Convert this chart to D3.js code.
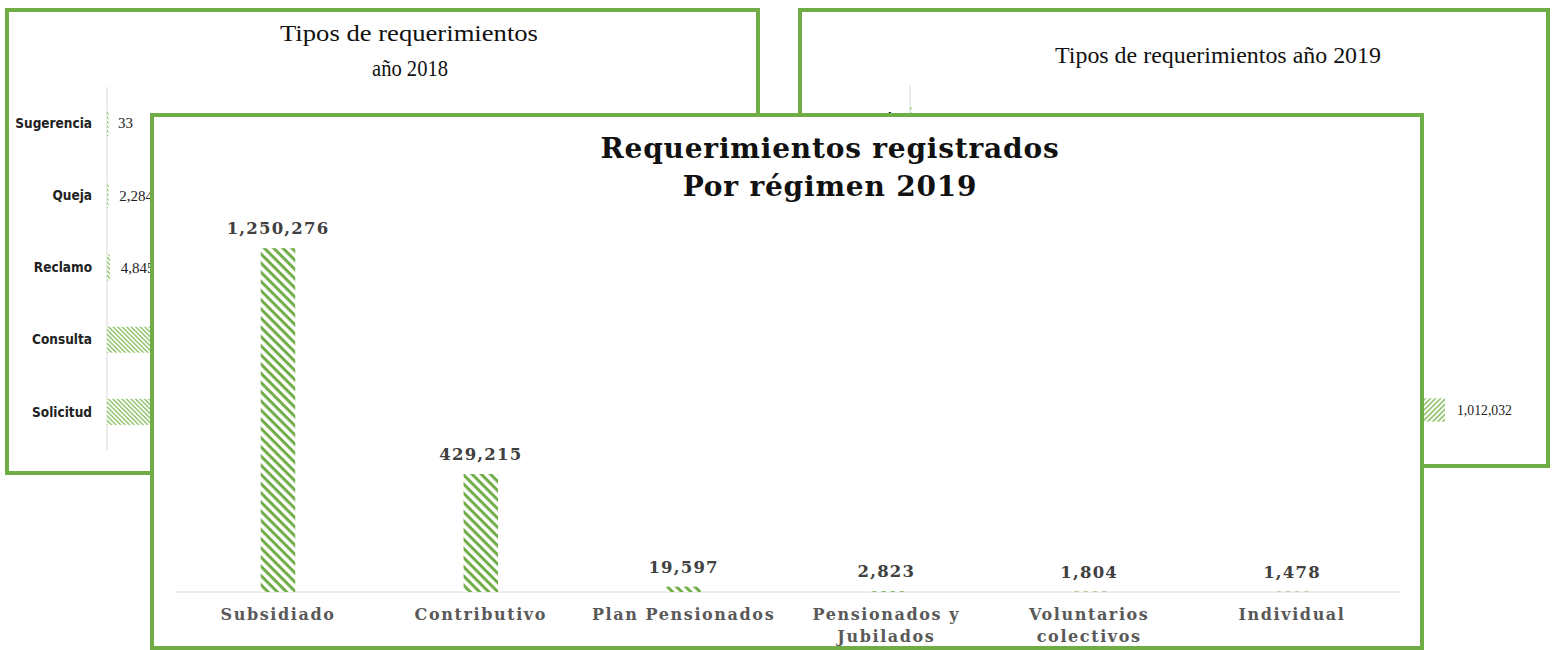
<!DOCTYPE html>
<html>
<head>
<meta charset="utf-8">
<script src="https://cdn.jsdelivr.net/npm/d3@7"></script>
<style>
  body { margin: 0; background: #fff; }
</style>
</head>
<body>
<script>
var W = 1556, H = 650;
var GREEN = "#70ad47";

// front chart: requirements by regime 2019
var regimenes = ["Subsidiado", "Contributivo", "Plan Pensionados", "Pensionados y\nJubilados", "Voluntarios\ncolectivos", "Individual"];
var porRegimen2019 = [1250276, 429215, 19597, 2823, 1804, 1478];

// back charts: requirement types (partly hidden in the picture, hidden values estimated)
var tipos = ["Sugerencia", "Queja", "Reclamo", "Consulta", "Solicitud"];
var tipos2018 = [33, 2284, 4845, 620000, 880000];
var tipos2019 = [45, 2900, 5200, 685016, 1012032];

var fmt = d3.format(",");

// front panel box, the back charts sit under it
var FRONT = {x: 152, y: 115, w: 1270, h: 533};

var svg = d3.select("body").append("svg")
    .attr("width", W)
    .attr("height", H);

var defs = svg.append("defs");

// hatch patterns
function hatch(id, size, stripe, angle, color) {
    var p = defs.append("pattern")
        .attr("id", id)
        .attr("patternUnits", "userSpaceOnUse")
        .attr("width", size)
        .attr("height", size)
        .attr("patternTransform", "rotate(" + angle + ")");
    p.append("rect").attr("width", size).attr("height", size).attr("fill", "#fff");
    p.append("rect").attr("width", size).attr("height", stripe).attr("fill", color);
}
hatch("hatchFront", 6.5, 3, 45, GREEN);
hatch("hatch2018", 3.2, 1.4, 45, "#8cc168");
hatch("hatch2019", 3.6, 1.6, -45, "#8cc168");

function frame(x, y, w, h) {
    svg.append("rect")
        .attr("x", x).attr("y", y)
        .attr("width", w).attr("height", h)
        .attr("fill", "#fff")
        .attr("stroke", GREEN)
        .attr("stroke-width", 4);
}

// drop back-chart labels that end up completely under the front panel
function dropHidden(g) {
    g.selectAll("text").each(function() {
        var b = this.getBBox();
        if (b.x >= FRONT.x && b.x + b.width <= FRONT.x + FRONT.w &&
            b.y >= FRONT.y && b.y + b.height <= FRONT.y + FRONT.h) {
            d3.select(this).remove();
        }
    });
}

/* ---------- back left: 2018 ---------- */
frame(7, 10, 751, 463);

svg.append("text").attr("x", 409).attr("y", 41)
    .attr("text-anchor", "middle")
    .attr("font-family", "Liberation Serif, serif").attr("font-size", 24)
    .attr("textLength", 258).attr("lengthAdjust", "spacingAndGlyphs")
    .attr("fill", "#111")
    .text("Tipos de requerimientos");
svg.append("text").attr("x", 410).attr("y", 76)
    .attr("text-anchor", "middle")
    .attr("font-family", "Liberation Serif, serif").attr("font-size", 24)
    .attr("textLength", 76).attr("lengthAdjust", "spacingAndGlyphs")
    .attr("fill", "#111")
    .text("año 2018");

var y18 = d3.scaleBand().domain(tipos).range([87, 448]).paddingInner(0.64).paddingOuter(0.32);
var x18 = d3.scaleLinear().domain([0, 1000000]).range([107, 700]);

var g18 = svg.append("g");
g18.append("line")
    .attr("x1", 107).attr("x2", 107).attr("y1", 87).attr("y2", 450)
    .attr("stroke", "#d9d9d9");
g18.selectAll("rect.bar").data(tipos2018).enter().append("rect")
    .attr("class", "bar")
    .attr("x", x18(0))
    .attr("y", (d, i) => y18(tipos[i]))
    .attr("width", d => Math.max(1.5, x18(d) - x18(0)))
    .attr("height", y18.bandwidth())
    .attr("fill", "url(#hatch2018)");
g18.selectAll("text.cat").data(tipos).enter().append("text")
    .attr("class", "cat")
    .attr("x", 92)
    .attr("y", d => y18(d) + y18.bandwidth() / 2)
    .attr("dy", "0.35em")
    .attr("text-anchor", "end")
    .attr("font-family", "Liberation Sans Narrow, DejaVu Sans Condensed, Liberation Sans, sans-serif")
    .attr("font-weight", "bold").attr("font-size", 13.5)
    .attr("fill", "#222")
    .text(d => d);
g18.selectAll("text.val").data(tipos2018).enter().append("text")
    .attr("class", "val")
    .attr("x", d => x18(d) + 11)
    .attr("y", (d, i) => y18(tipos[i]) + y18.bandwidth() / 2)
    .attr("dy", "0.35em")
    .attr("font-family", "Liberation Serif, serif").attr("font-size", 15)
    .attr("fill", "#222")
    .text(d => fmt(d));
dropHidden(g18);

/* ---------- back right: 2019 ---------- */
frame(800, 10, 748, 456);

svg.append("text").attr("x", 1218).attr("y", 63)
    .attr("text-anchor", "middle")
    .attr("font-family", "Liberation Serif, serif").attr("font-size", 24)
    .attr("textLength", 326).attr("lengthAdjust", "spacingAndGlyphs")
    .attr("fill", "#111")
    .text("Tipos de requerimientos año 2019");

var y19 = d3.scaleBand().domain(tipos).range([81.5, 446.5]).paddingInner(0.68).paddingOuter(0.34);
var x19 = d3.scaleLinear().domain([0, d3.max(tipos2019)]).range([910, 1445]);

var g19 = svg.append("g");
g19.append("line")
    .attr("x1", 910).attr("x2", 910).attr("y1", 85).attr("y2", 445)
    .attr("stroke", "#d9d9d9");
g19.selectAll("rect.bar").data(tipos2019).enter().append("rect")
    .attr("class", "bar")
    .attr("x", x19(0))
    .attr("y", (d, i) => y19(tipos[i]))
    .attr("width", d => Math.max(1.5, x19(d) - x19(0)))
    .attr("height", y19.bandwidth())
    .attr("fill", "url(#hatch2019)");
g19.selectAll("text.cat").data(tipos).enter().append("text")
    .attr("class", "cat")
    .attr("x", 900)
    .attr("y", d => y19(d) + y19.bandwidth() / 2)
    .attr("dy", "0.35em")
    .attr("text-anchor", "end")
    .attr("font-family", "Liberation Sans Narrow, DejaVu Sans Condensed, Liberation Sans, sans-serif")
    .attr("font-weight", "bold").attr("font-size", 13.5)
    .attr("fill", "#222")
    .text(d => d);
g19.selectAll("text.val").data(tipos2019).enter().append("text")
    .attr("class", "val")
    .attr("x", d => x19(d) + 12)
    .attr("y", (d, i) => y19(tipos[i]) + y19.bandwidth() / 2)
    .attr("dy", "0.35em")
    .attr("font-family", "Liberation Serif, serif").attr("font-size", 15)
    .attr("textLength", d => fmt(d).length * 6.1).attr("lengthAdjust", "spacingAndGlyphs")
    .attr("fill", "#222")
    .text(d => fmt(d));
dropHidden(g19);

/* ---------- front: por régimen 2019 ---------- */
frame(FRONT.x, FRONT.y, FRONT.w, FRONT.h);

var titleFont = "DejaVu Serif, serif";
svg.append("text").attr("x", 830).attr("y", 158)
    .attr("text-anchor", "middle")
    .attr("font-family", titleFont).attr("font-weight", "bold").attr("font-size", 28)
    .attr("letter-spacing", 0.8)
    .attr("fill", "#111")
    .text("Requerimientos registrados");
svg.append("text").attr("x", 830).attr("y", 196)
    .attr("text-anchor", "middle")
    .attr("font-family", titleFont).attr("font-weight", "bold").attr("font-size", 28)
    .attr("letter-spacing", 0.8)
    .attr("fill", "#111")
    .text("Por régimen 2019");

var baseY = 592;
var x = d3.scaleBand().domain(regimenes).range([176.6, 1393.4]).paddingInner(0.83).paddingOuter(0.415);
var y = d3.scaleLinear().domain([0, 1400000]).range([baseY, 207]);

svg.append("line")
    .attr("x1", 175).attr("x2", 1400).attr("y1", baseY).attr("y2", baseY)
    .attr("stroke", "#d9d9d9").attr("stroke-width", 1.2);

svg.selectAll("rect.front").data(porRegimen2019).enter().append("rect")
    .attr("class", "front")
    .attr("x", (d, i) => x(regimenes[i]))
    .attr("y", d => y(d))
    .attr("width", x.bandwidth())
    .attr("height", d => baseY - y(d))
    .attr("fill", "url(#hatchFront)");

svg.selectAll("text.fval").data(porRegimen2019).enter().append("text")
    .attr("class", "fval")
    .attr("x", (d, i) => x(regimenes[i]) + x.bandwidth() / 2)
    .attr("y", d => y(d) - 14)
    .attr("text-anchor", "middle")
    .attr("font-family", titleFont).attr("font-weight", "bold").attr("font-size", 16.5)
    .attr("letter-spacing", 1.2)
    .attr("fill", "#404040")
    .text(d => fmt(d));

var cats = svg.selectAll("text.fcat").data(regimenes).enter().append("text")
    .attr("class", "fcat")
    .attr("x", d => x(d) + x.bandwidth() / 2)
    .attr("y", 620)
    .attr("text-anchor", "middle")
    .attr("font-family", titleFont).attr("font-weight", "bold").attr("font-size", 16)
    .attr("letter-spacing", 1.6)
    .attr("fill", "#595959");
cats.each(function(d) {
    var t = d3.select(this);
    d.split("\n").forEach(function(line, k) {
        t.append("tspan")
            .attr("x", t.attr("x"))
            .attr("dy", k === 0 ? 0 : 22)
            .text(line);
    });
});
</script>
</body>
</html>
